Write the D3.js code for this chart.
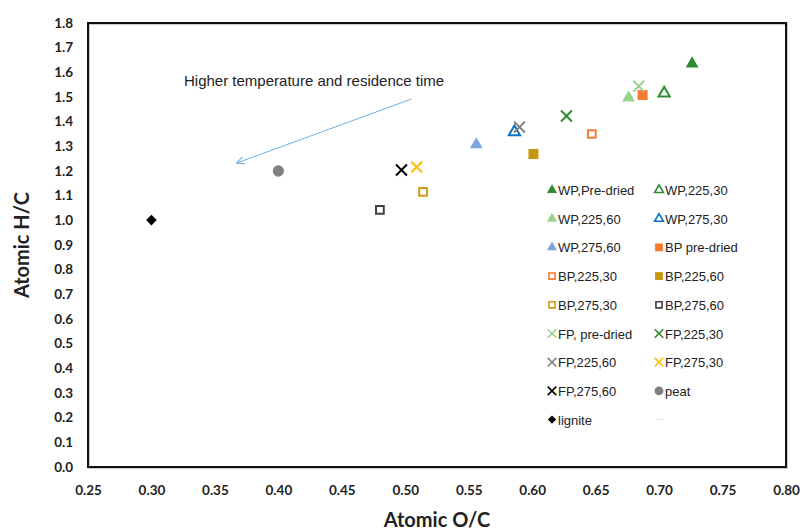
<!DOCTYPE html>
<html>
<head>
<meta charset="utf-8">
<script src="https://cdn.jsdelivr.net/npm/d3@7"></script>
<style>
	body { margin: 0; background: #fff; }
	svg { display: block; }
	.tick text { font-family: Lato, "Open Sans", sans-serif; font-weight: bold; font-size: 13.5px; fill: #222; }
	.legend text { font-family: "Liberation Sans", Arial, sans-serif; font-size: 13px; fill: #222; }
</style>
</head>
<body>
<div id="forSvg"></div>
<script>
// series names, O/C and H/C values
var seriesNames = ["WP,Pre-dried", "WP,225,30", "WP,225,60", "WP,275,30", "WP,275,60",
	"BP  pre-dried", "BP,225,30", "BP,225,60", "BP,275,30", "BP,275,60",
	"FP, pre-dried", "FP,225,30", "FP,225,60", "FP,275,30", "FP,275,60",
	"peat", "lignite"];
var ocValues = [0.726, 0.704, 0.676, 0.586, 0.556,
	0.687, 0.647, 0.601, 0.514, 0.480,
	0.684, 0.627, 0.590, 0.509, 0.497,
	0.400, 0.300];
var hcValues = [1.635, 1.515, 1.497, 1.358, 1.307,
	1.508, 1.350, 1.269, 1.115, 1.042,
	1.544, 1.423, 1.378, 1.216, 1.204,
	1.200, 1.001];

var xTicks = [0.25, 0.30, 0.35, 0.40, 0.45, 0.50, 0.55, 0.60, 0.65, 0.70, 0.75, 0.80];
var yTicks = [0, 0.1, 0.2, 0.3, 0.4, 0.5, 0.6, 0.7, 0.8, 0.9, 1.0, 1.1, 1.2, 1.3, 1.4, 1.5, 1.6, 1.7, 1.8];

// arrow annotation, from / to in data units
var arrowFrom = [0.505, 1.492];
var arrowTo = [0.367, 1.232];
var noteText = "Higher temperature and residence time";

// marker look for each series (shape, fill or open, colour)
var markerStyles = [
	{shape: "tri", open: false, color: "#2e8b32"},
	{shape: "tri", open: true, color: "#2e8b32"},
	{shape: "tri", open: false, color: "#97d38f"},
	{shape: "tri", open: true, color: "#0a72c4"},
	{shape: "tri", open: false, color: "#7ea6dc"},
	{shape: "sq", open: false, color: "#f67c32"},
	{shape: "sq", open: true, color: "#f67c32"},
	{shape: "sq", open: false, color: "#c8960c"},
	{shape: "sq", open: true, color: "#d09a1a"},
	{shape: "sq", open: true, color: "#404040"},
	{shape: "x", open: true, color: "#97d38f"},
	{shape: "x", open: true, color: "#2e8b32"},
	{shape: "x", open: true, color: "#808080"},
	{shape: "x", open: true, color: "#ffc000"},
	{shape: "x", open: true, color: "#000000"},
	{shape: "circle", open: false, color: "#808080"},
	{shape: "diamond", open: false, color: "#000000"}
];

var width = 802, height = 532;
var plotLeft = 88, plotRight = 786, plotTop = 23, plotBottom = 467;

var chart = d3.select("#forSvg").append("svg")
	.attr("width", width)
	.attr("height", height);

var x = d3.scaleLinear().domain([0.25, 0.80]).range([plotLeft, plotRight]);
var y = d3.scaleLinear().domain([0, 1.8]).range([plotBottom, plotTop]);

var symbolPath = function(st, big) {
	var k = big ? 1 : 0.62;
	if (st.shape == "tri") return d3.symbol(d3.symbolTriangle, (st.open ? 54 : 72) * k)();
	if (st.shape == "sq") return d3.symbol(d3.symbolSquare, (st.open ? 60 : 100) * k)();
	if (st.shape == "x") return d3.symbol(d3.symbolX, 80 * k)();
	if (st.shape == "circle") return d3.symbol(d3.symbolCircle, 100 * k)();
	return d3.symbol(d3.symbolSquare, 56 * k)();
};

var styleMarker = function(sel, big) {
	sel.attr("d", function(d) { return symbolPath(markerStyles[d], big); })
		.style("fill", function(d) {
			var st = markerStyles[d];
			return (st.open || st.shape == "x") ? "none" : st.color;
		})
		.style("stroke", function(d) {
			var st = markerStyles[d];
			return (st.open || st.shape == "x") ? st.color : "none";
		})
		.style("stroke-width", big ? 2 : 1.6);
};

// axes (labels only, no tick marks)
var xAxis = d3.axisBottom(x).tickValues(xTicks).tickSize(0).tickPadding(18)
	.tickFormat(d3.format(".2f"));
var yAxis = d3.axisLeft(y).tickValues(yTicks).tickSize(0).tickPadding(15)
	.tickFormat(d3.format(".1f"));

chart.append("g").attr("transform", "translate(0," + plotBottom + ")").call(xAxis)
	.call(function(g) { g.select(".domain").remove(); });
chart.append("g").attr("transform", "translate(" + plotLeft + ",0)").call(yAxis)
	.call(function(g) { g.select(".domain").remove(); });

// plot frame
chart.append("rect")
	.attr("x", plotLeft + 1).attr("y", plotTop + 1)
	.attr("width", plotRight - plotLeft).attr("height", plotBottom - plotTop)
	.style("fill", "none").style("stroke", "#bbb").style("stroke-width", 1.5);
chart.append("rect")
	.attr("x", plotLeft).attr("y", plotTop)
	.attr("width", plotRight - plotLeft).attr("height", plotBottom - plotTop)
	.style("fill", "none").style("stroke", "#111").style("stroke-width", 2);

// axis titles
chart.append("text")
	.attr("x", 437).attr("y", 527)
	.attr("text-anchor", "middle")
	.style("font-family", "Lato, 'Open Sans', sans-serif")
	.style("font-weight", "bold").style("font-size", "20px").style("fill", "#222")
	.text("Atomic O/C");
chart.append("text")
	.attr("transform", "translate(29," + ((plotTop + plotBottom) / 2) + ") rotate(-90)")
	.attr("text-anchor", "middle")
	.style("font-family", "Lato, 'Open Sans', sans-serif")
	.style("font-weight", "bold").style("font-size", "20px").style("fill", "#222")
	.text("Atomic H/C");

// annotation
chart.append("defs").append("marker")
	.attr("id", "arrowHead")
	.attr("viewBox", "0 0 10 10").attr("refX", 9).attr("refY", 5)
	.attr("markerWidth", 10).attr("markerHeight", 10)
	.attr("orient", "auto")
	.append("path").attr("d", "M1,1 L9,5 L1,9")
	.style("fill", "none").style("stroke", "#6cb0e4").style("stroke-width", 1);

chart.append("line")
	.attr("x1", x(arrowFrom[0])).attr("y1", y(arrowFrom[1]))
	.attr("x2", x(arrowTo[0])).attr("y2", y(arrowTo[1]))
	.style("stroke", "#6cb0e4").style("stroke-width", 1)
	.attr("marker-end", "url(#arrowHead)");

chart.append("text")
	.attr("x", 184).attr("y", 86)
	.style("font-family", "'Liberation Sans', Arial, sans-serif")
	.style("font-size", "15px").style("fill", "#222")
	.text(noteText);

// points
var idx = d3.range(seriesNames.length);
chart.append("g").selectAll("path")
	.data(idx)
	.enter().append("path")
	.attr("transform", function(d) {
		var rot = markerStyles[d].shape == "diamond" ? " rotate(45)" : "";
		return "translate(" + x(ocValues[d]) + "," + y(hcValues[d]) + ")" + rot;
	})
	.call(styleMarker, true);

// legend, two columns
var legend = chart.append("g").attr("class", "legend");
var colX = [552, 659];
var rowY0 = 190, rowStep = 28.7;
var items = legend.selectAll("g")
	.data(idx)
	.enter().append("g")
	.attr("transform", function(d) {
		return "translate(" + colX[d % 2] + "," + (rowY0 + Math.floor(d / 2) * rowStep) + ")";
	});
items.append("path")
	.attr("transform", function(d) {
		return markerStyles[d].shape == "diamond" ? "rotate(45)" : null;
	})
	.call(styleMarker, false);
items.append("text")
	.attr("x", 6).attr("y", 5)
	.text(function(d) { return seriesNames[d]; });

// empty last legend slot (faint line)
legend.append("line")
	.attr("x1", colX[1] - 3).attr("x2", colX[1] + 4)
	.attr("y1", rowY0 + 8 * rowStep).attr("y2", rowY0 + 8 * rowStep)
	.style("stroke", "#ddd").style("stroke-width", 1);
</script>
</body>
</html>
